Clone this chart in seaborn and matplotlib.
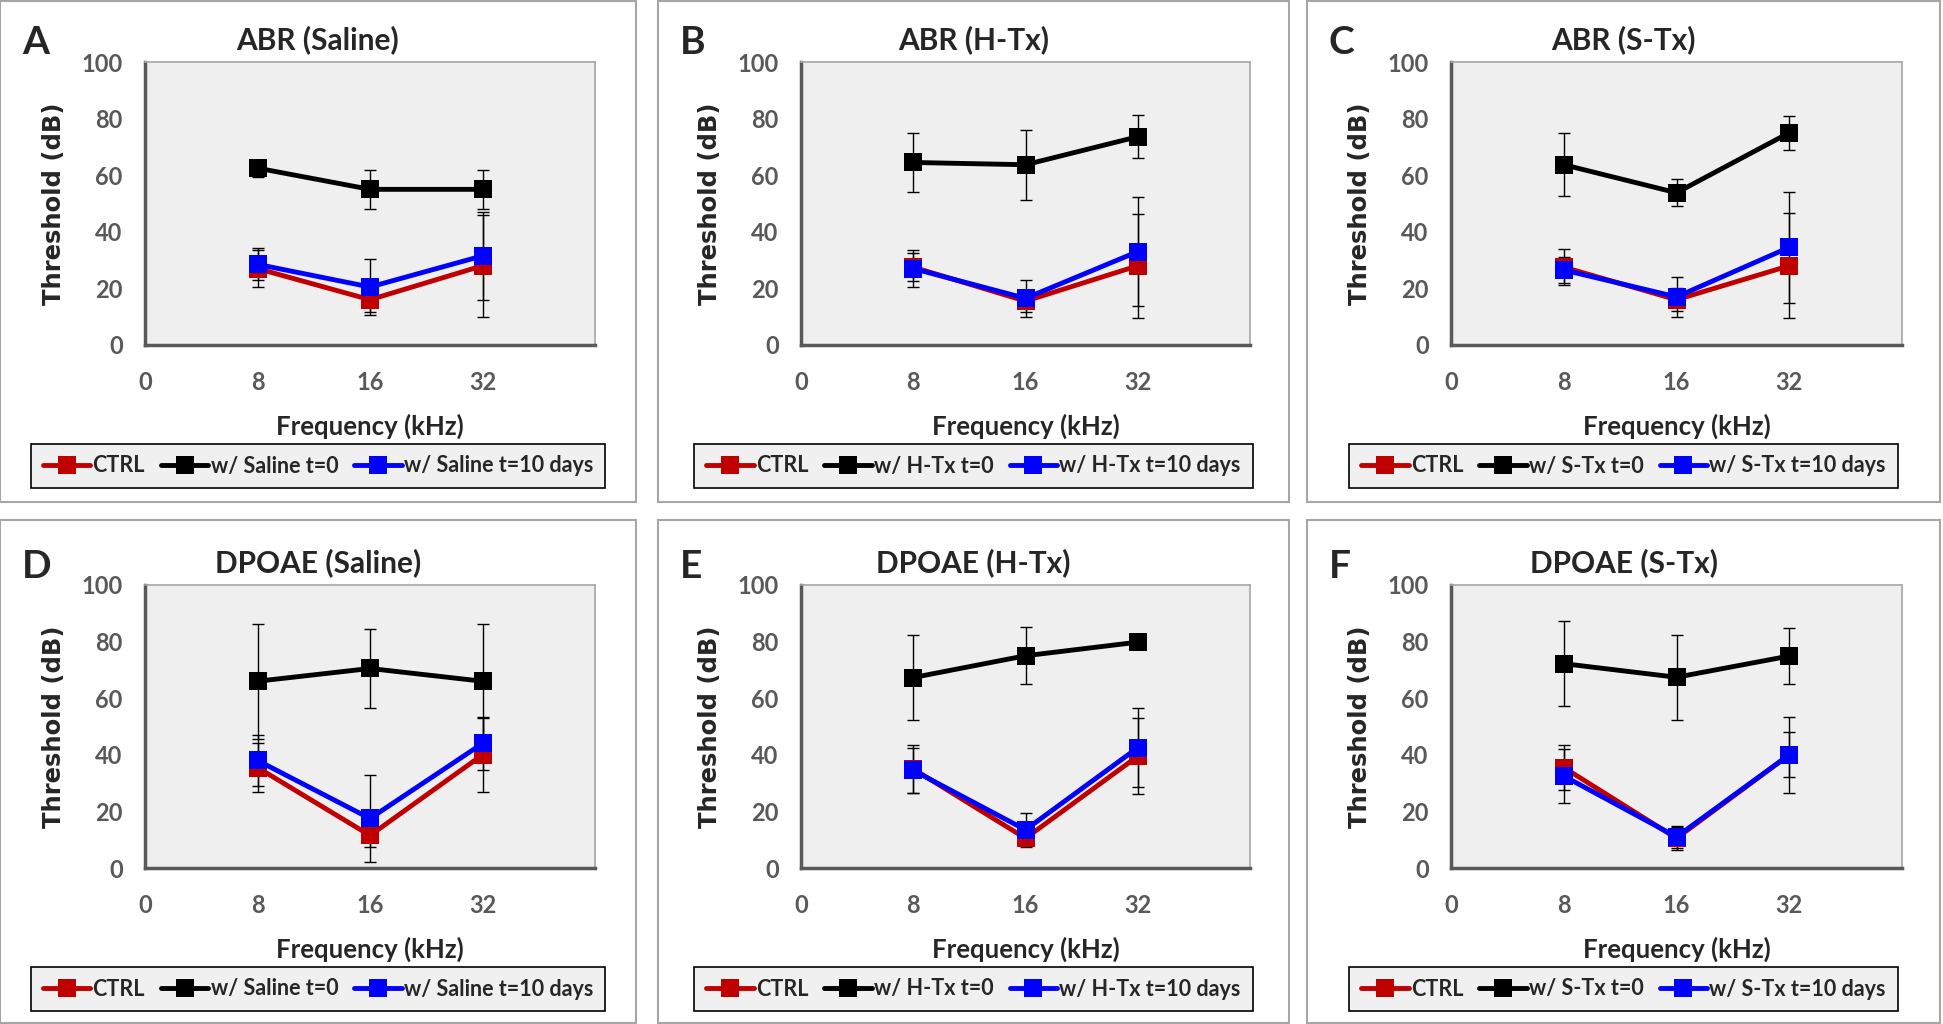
import numpy as np
import pandas as pd
import seaborn as sns
import matplotlib.pyplot as plt
from matplotlib.patches import Rectangle

# threshold (dB) per frequency, error = half width of the error bar
freq_ticks = ['0', '8', '16', '32', '']
freqs = ['8', '16', '32']

abr_saline_ctrl = [27, 16, 28]
abr_saline_ctrl_err = [6.5, 4.5, 18]
abr_saline_t0 = [62.5, 55, 55]
abr_saline_t0_err = [3, 6.8, 6.8]
abr_saline_t10 = [28.5, 20.5, 31.5]
abr_saline_t10_err = [5.7, 10, 15.5]

abr_htx_ctrl = [27.5, 15.5, 28]
abr_htx_ctrl_err = [5, 4, 18.3]
abr_htx_t0 = [64.5, 63.7, 73.6]
abr_htx_t0_err = [10.3, 12.4, 7.6]
abr_htx_t10 = [27, 16.5, 33]
abr_htx_t10_err = [6.5, 6.5, 19.3]

abr_stx_ctrl = [27.5, 16, 28]
abr_stx_ctrl_err = [6.4, 4, 18.5]
abr_stx_t0 = [63.7, 53.8, 75]
abr_stx_t0_err = [11.2, 4.8, 6]
abr_stx_t10 = [26.5, 17, 34.5]
abr_stx_t10_err = [4.6, 7, 19.5]

dp_saline_ctrl = [35.5, 11.5, 40]
dp_saline_ctrl_err = [8.5, 4, 13]
dp_saline_t0 = [66, 70.5, 66]
dp_saline_t0_err = [20.3, 14, 20.2]
dp_saline_t10 = [38, 17.5, 44]
dp_saline_t10_err = [9, 15.4, 9.5]

dp_htx_ctrl = [35, 10.5, 39.5]
dp_htx_ctrl_err = [8.5, 2.5, 13.5]
dp_htx_t0 = [67.3, 75, 79.8]
dp_htx_t0_err = [15, 10, 0.5]
dp_htx_t10 = [34.5, 13.5, 42.5]
dp_htx_t10_err = [8, 6, 14]

dp_stx_ctrl = [35.5, 10.5, 40]
dp_stx_ctrl_err = [8, 4, 13.5]
dp_stx_t0 = [72.2, 67.4, 74.9]
dp_stx_t0_err = [15, 15, 10]
dp_stx_t10 = [32.5, 11, 40]
dp_stx_t10_err = [9.5, 4, 8]

panels = [
    ('A', 'ABR (Saline)', 'Saline', abr_saline_ctrl, abr_saline_ctrl_err, abr_saline_t0, abr_saline_t0_err, abr_saline_t10, abr_saline_t10_err),
    ('B', 'ABR (H-Tx)', 'H-Tx', abr_htx_ctrl, abr_htx_ctrl_err, abr_htx_t0, abr_htx_t0_err, abr_htx_t10, abr_htx_t10_err),
    ('C', 'ABR (S-Tx)', 'S-Tx', abr_stx_ctrl, abr_stx_ctrl_err, abr_stx_t0, abr_stx_t0_err, abr_stx_t10, abr_stx_t10_err),
    ('D', 'DPOAE (Saline)', 'Saline', dp_saline_ctrl, dp_saline_ctrl_err, dp_saline_t0, dp_saline_t0_err, dp_saline_t10, dp_saline_t10_err),
    ('E', 'DPOAE (H-Tx)', 'H-Tx', dp_htx_ctrl, dp_htx_ctrl_err, dp_htx_t0, dp_htx_t0_err, dp_htx_t10, dp_htx_t10_err),
    ('F', 'DPOAE (S-Tx)', 'S-Tx', dp_stx_ctrl, dp_stx_ctrl_err, dp_stx_t0, dp_stx_t0_err, dp_stx_t10, dp_stx_t10_err),
]

# layout in pixels
col_boxes = [(0, 636), (658, 1289), (1307, 1940)]
col_plots = [(145, 595), (801, 1250), (1451, 1902)]
row_boxes = [(1, 502), (520, 1023)]
row_plots = [(62, 345), (585, 868)]

W, H = 1943, 1024
colors = ['#C00000', '#000000', '#0000FF']
tick_grey = '#595959'

sns.set_style('white')
plt.rcParams['font.family'] = ['Lato', 'DejaVu Sans']
plt.rcParams['font.weight'] = 'bold'

fig = plt.figure(figsize=(W / 100, H / 100), dpi=100)


def fx(px):
    return px / W


def fy(py):
    return 1 - py / H


for i, (letter, title, tx, ctrl, ctrl_e, t0, t0_e, t10, t10_e) in enumerate(panels):
    r, c = divmod(i, 3)
    bx0, bx1 = col_boxes[c]
    by0, by1 = row_boxes[r]
    px0, px1 = col_plots[c]
    py0, py1 = row_plots[r]
    pw, ph = px1 - px0, py1 - py0

    fig.patches.append(Rectangle((fx(bx0), fy(by1)), fx(bx1 - bx0), (by1 - by0) / H,
                                 transform=fig.transFigure, fill=False,
                                 edgecolor='#A6A6A6', linewidth=1.5, zorder=0))

    ax = fig.add_axes([fx(px0), fy(py1), fx(pw), ph / H])
    ax.set_facecolor('#EFEFEF')

    names = ['CTRL', f'w/ {tx} t=0', f'w/ {tx} t=10 days']
    pos = [freq_ticks.index(f) for f in freqs]
    df = pd.DataFrame({
        'pos': pos * 3,
        'series': np.repeat(names, len(freqs)),
        'thr': ctrl + t0 + t10,
    })
    sns.lineplot(data=df, x='pos', y='thr', hue='series', hue_order=names,
                 palette=dict(zip(names, colors)), marker='s', markersize=13.5,
                 markeredgewidth=0, linewidth=3.5, errorbar=None, legend=False,
                 ax=ax, zorder=3)
    handles = list(ax.lines)

    for mean, err in [(ctrl, ctrl_e), (t0, t0_e), (t10, t10_e)]:
        ax.errorbar(pos, mean, yerr=err, fmt='none', ecolor='black',
                    elinewidth=1, capsize=4, capthick=1, zorder=2)

    ax.set_xlim(0, len(freq_ticks) - 1)
    ax.set_ylim(0, 100)
    ax.set_xticks(range(len(freq_ticks)))
    ax.set_xticklabels(freq_ticks)
    ax.set_yticks(range(0, 101, 20))
    ax.tick_params(axis='x', direction='out', length=7, width=2, color=tick_grey,
                   labelcolor=tick_grey, labelsize=17, pad=12)
    ax.tick_params(axis='y', direction='in', length=7, width=2, color=tick_grey,
                   labelcolor=tick_grey, labelsize=17, pad=16)
    for lab in ax.get_xticklabels() + ax.get_yticklabels():
        lab.set_fontweight('bold')

    for s in ['left', 'bottom']:
        ax.spines[s].set_color(tick_grey)
        ax.spines[s].set_linewidth(2.5)
    for s in ['top', 'right']:
        ax.spines[s].set_color('#A6A6A6')
        ax.spines[s].set_linewidth(1.2)

    ax.set_xlabel('Frequency (kHz)', fontsize=18.5, fontweight='bold')
    ax.xaxis.set_label_coords(0.5, -(414 - 345) / ph)
    ax.set_ylabel('Threshold (dB)', fontsize=17.5, fontweight='bold', family='DejaVu Sans')
    ax.yaxis.set_label_coords(-(145 - 66) / pw, 0.5)

    fig.text(fx((bx0 + bx1) / 2), fy(py0 - 22), title, ha='center', va='center',
             fontsize=21.5, fontweight='bold')
    fig.text(fx(bx0 + 22), fy(py0 - 19), letter, ha='left', va='center',
             fontsize=28, fontweight='bold')

    leg_cy = py1 + 121
    ax.legend(handles, names, loc='center', bbox_to_anchor=(fx((bx0 + bx1) / 2), fy(leg_cy)),
              bbox_transform=fig.transFigure, ncol=3, frameon=True, fancybox=False,
              edgecolor='black', facecolor='#F0F0F0', framealpha=1,
              handlelength=2.2, handletextpad=0.1, columnspacing=0.75, borderpad=0.55,
              prop={'family': 'Lato', 'weight': 'bold', 'size': 15.5})
    ax.get_legend().get_frame().set_linewidth(1.2)

fig.savefig('out.png', dpi=100)
